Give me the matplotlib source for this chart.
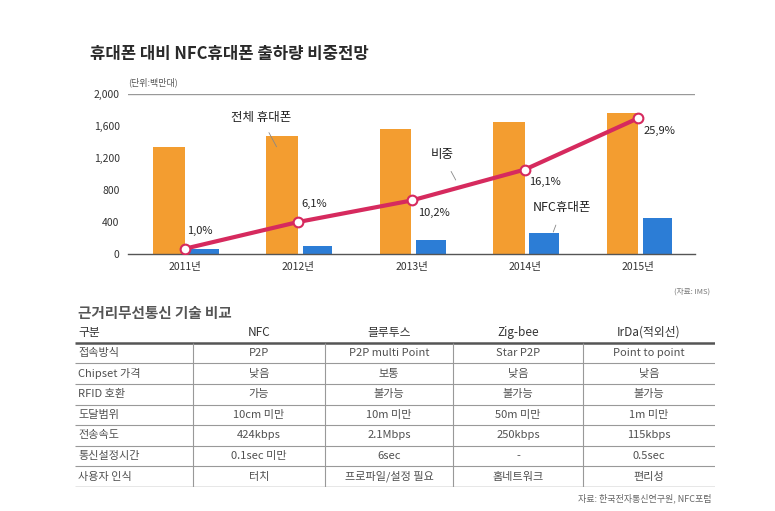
import matplotlib
matplotlib.use("Agg")
import matplotlib.pyplot as plt
import numpy as np

plt.rcParams['font.family'] = ['Noto Sans CJK KR', 'DejaVu Sans']

# chart data
years = ["2011년", "2012년", "2013년", "2014년", "2015년"]
total_phones = [1340, 1475, 1565, 1655, 1760]
nfc_phones = [62, 100, 175, 265, 445]
share = [1.0, 6.1, 10.2, 16.1, 25.9]
share_labels = ["1,0%", "6,1%", "10,2%", "16,1%", "25,9%"]
yticks = [0, 400, 800, 1200, 1600, 2000]

# table data
tbl_header = ["구분", "NFC", "블루투스", "Zig-bee", "IrDa(적외선)"]
tbl_rows = [
    ["접속방식", "P2P", "P2P multi Point", "Star P2P", "Point to point"],
    ["Chipset 가격", "낮음", "보통", "낮음", "낮음"],
    ["RFID 호환", "가능", "불가능", "불가능", "불가능"],
    ["도달범위", "10cm 미만", "10m 미만", "50m 미만", "1m 미만"],
    ["전송속도", "424kbps", "2.1Mbps", "250kbps", "115kbps"],
    ["통신설정시간", "0.1sec 미만", "6sec", "-", "0.5sec"],
    ["사용자 인식", "터치", "프로파일/설정 필요", "홈네트워크", "편리성"],
]
col_widths = [118, 132, 128, 130, 132]

ORANGE = "#f39d30"
BLUE = "#2c7dd6"
RED = "#d62a5e"

fig = plt.figure(figsize=(7.75, 5.11), dpi=100)
fig.patch.set_facecolor("white")

fig.text(90 / 775, 1 - 54 / 511, "휴대폰 대비 NFC휴대폰 출하량 비중전망",
         fontsize=12, fontweight="bold", color="#2a2a2a", va="center", ha="left")

ax = fig.add_axes([128 / 775, 1 - 254 / 511, 567 / 775, 160 / 511])
x = np.arange(len(years))
ax.bar(x - 0.14, total_phones, width=0.28, color=ORANGE, zorder=2)
ax.bar(x + 0.17, nfc_phones, width=0.26, color=BLUE, zorder=2)
ax.set_xlim(-0.5, 4.5)
ax.set_ylim(0, 2000)
ax.set_yticks(yticks)
ax.set_yticklabels([f"{v:,}" for v in yticks])
ax.set_xticks(x)
ax.set_xticklabels(years)
ax.tick_params(length=0, labelsize=7.5, colors="#333333")
ax.tick_params(axis="y", pad=6)
ax.tick_params(axis="x", pad=6)
for s in ["left", "right", "top"]:
    ax.spines[s].set_visible(False)
ax.spines["bottom"].set_color("#555555")
ax.spines["bottom"].set_linewidth(1.0)
ax.axhline(2000, color="#999999", lw=1.0, zorder=1)
ax.text(0, 1.07, "(단위:백만대)", transform=ax.transAxes, fontsize=6.5,
        color="#555555", ha="left", va="center")

ax2 = ax.twinx()
ax2.set_ylim(0, 30.5)
ax2.axis("off")
ax2.plot(x, share, color=RED, lw=3.0, marker="o", markersize=7,
         markerfacecolor="white", markeredgecolor=RED, markeredgewidth=1.5, zorder=3)
offsets = [(2, 13), (2, 13), (5, -9), (3, -9), (4, -9)]
for xi, yi, lab, off in zip(x, share, share_labels, offsets):
    ax2.annotate(lab, xy=(xi, yi), xytext=off, textcoords="offset points",
                 ha="left", va="center", fontsize=8, color="#222222")

# callouts
callout = dict(ha="center", va="center", fontsize=9, color="#222222", fontweight="medium")
ax.annotate("전체 휴대폰", xy=(0.81, 1340), xytext=(0.67, 1710), **callout,
            arrowprops=dict(arrowstyle="-", color="#888888", lw=0.6, shrinkA=5, shrinkB=0))
ax.annotate("비중", xy=(2.39, 925), xytext=(2.27, 1240), **callout,
            arrowprops=dict(arrowstyle="-", color="#888888", lw=0.6, shrinkA=6, shrinkB=0))
ax.annotate("NFC휴대폰", xy=(3.25, 275), xytext=(3.33, 575), **callout,
            arrowprops=dict(arrowstyle="-", color="#888888", lw=0.6, shrinkA=6, shrinkB=0))

fig.text(710 / 775, 1 - 292 / 511, "(자료: IMS)", fontsize=5.5, color="#777777",
         ha="right", va="center")

# comparison table
fig.text(78 / 775, 1 - 313 / 511, "근거리무선통신 기술 비교", fontsize=10.5,
         fontweight="bold", color="#555555", ha="left", va="center")

n_rows = len(tbl_rows)
edges = np.concatenate([[0], np.cumsum(col_widths)])
tax = fig.add_axes([75 / 775, 1 - 487 / 511, edges[-1] / 775, 165 / 511])
tax.set_xlim(0, edges[-1])
tax.set_ylim(n_rows, -1)
tax.axis("off")

centers = (edges[:-1] + edges[1:]) / 2
for j, h in enumerate(tbl_header):
    tx = 3 if j == 0 else centers[j]
    tax.text(tx, -0.5, h, ha="left" if j == 0 else "center", va="center",
             fontsize=8.5, color="#333333")
for i, row in enumerate(tbl_rows):
    for j, val in enumerate(row):
        tx = 3 if j == 0 else centers[j]
        tax.text(tx, i + 0.5, val, ha="left" if j == 0 else "center", va="center",
                 fontsize=8, color="#505050")

tax.hlines(0, 0, edges[-1], color="#555555", lw=1.8)
tax.hlines(np.arange(1, n_rows), 0, edges[-1], color="#999999", lw=0.8)
tax.hlines(n_rows, 0, edges[-1], color="#888888", lw=1.0)
tax.vlines(edges[1:-1], 0, n_rows, color="#999999", lw=0.8)

fig.text(712 / 775, 1 - 498 / 511, "자료: 한국전자통신연구원, NFC포럼", fontsize=6.5,
         color="#666666", ha="right", va="center")

fig.savefig("out.png", dpi=100, facecolor="white")
